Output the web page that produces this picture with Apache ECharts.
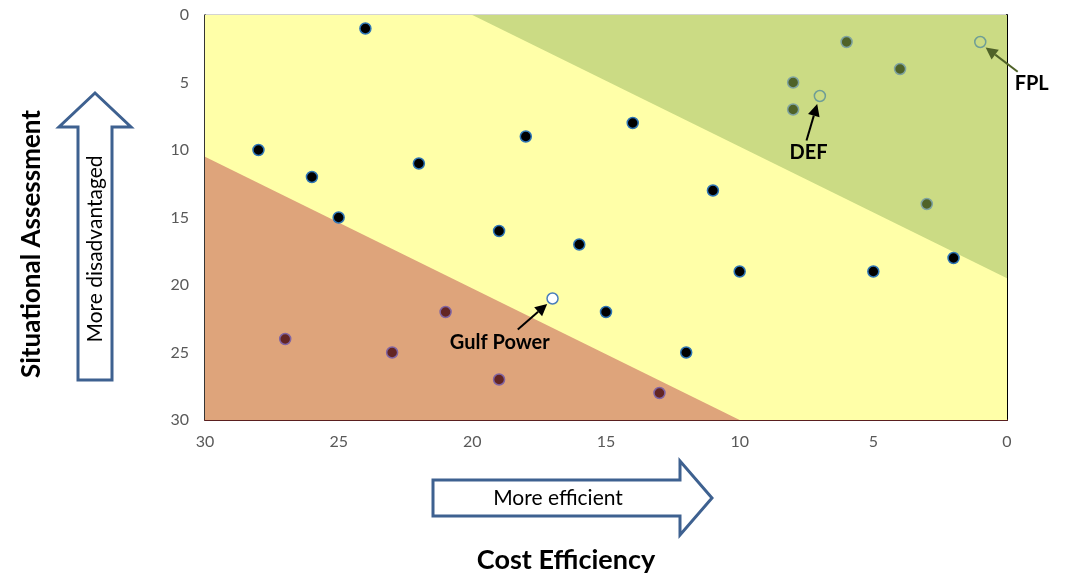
<!DOCTYPE html>
<html>
<head>
<meta charset="utf-8">
<script src="https://cdn.jsdelivr.net/npm/echarts@6/dist/echarts.min.js"></script>
<style>
  body { margin: 0; background: #fff; }
  #main { width: 1066px; height: 576px; }
</style>
</head>
<body>
<div id="main"></div>
<script>
// [cost efficiency rank, situational assessment rank]
var blackPts = [[24,1],[28,10],[26,12],[25,15],[22,11],[18,9],[19,16],[16,17],[14,8],[11,13],[15,22],[12,25],[10,19],[5,19],[2,18]];
var greenPts = [[6,2],[4,4],[8,5],[8,7],[3,14]];
var brownPts = [[27,24],[23,25],[21,22],[19,27],[13,28]];
var hollowGreenPts = [[7,6],[1,2]];
var gulfPts = [[17,21]];
var axisTicks = [0,5,10,15,20,25,30];

// background zones
var zoneYellow = [[30,0],[0,0],[0,30],[30,30]];
var zoneGreen = [[20,0],[0,0],[0,19.5]];
var zoneBrown = [[30,10.5],[30,30],[10,30]];

// labels: [text, from x, from y, to x, to y]
var notes = [
  ['FPL', -0.4, 4.2, 0.8, 2.4],
  ['DEF', 7.5, 9.3, 7.1, 6.6],
  ['Gulf Power', 18.3, 23.3, 17.2, 21.4]
];

var myChart = echarts.init(document.getElementById('main'));
var font = 'Lato, "Open Sans", sans-serif';

function zone(pts, color, stroke) {
  return {
    type: 'custom',
    silent: true,
    z: 1,
    data: [0],
    clip: true,
    renderItem: function (params, api) {
      return {
        type: 'polygon',
        shape: { points: pts.map(function (p) { return api.coord(p); }) },
        style: { fill: color, stroke: stroke || 'none', lineWidth: 1 }
      };
    }
  };
}

function dots(data, fill, border) {
  return {
    type: 'scatter',
    z: 5,
    symbolSize: 11,
    data: data,
    itemStyle: { color: fill, borderColor: border, borderWidth: 1.5, opacity: 1 }
  };
}

var option = {
  animation: false,
  textStyle: { fontFamily: font },
  grid: { left: 205, right: 59, top: 15, bottom: 156, show: true, borderColor: '#a6a6a6', borderWidth: 1 },
  xAxis: {
    type: 'value', min: 0, max: 30, interval: 5, inverse: true,
    splitLine: { show: false },
    axisTick: { show: false },
    axisLine: { show: true, onZero: false, lineStyle: { color: '#5a1f1f', width: 2 } },
    axisLabel: { color: '#595959', fontSize: 16, margin: 14, fontFamily: font,
      formatter: function (v) { return axisTicks.indexOf(v) >= 0 ? v : ''; } }
  },
  yAxis: [{
    type: 'value', min: 0, max: 30, interval: 5, inverse: true,
    splitLine: { show: false },
    axisTick: { show: false },
    axisLine: { show: true, onZero: false, lineStyle: { color: '#000', width: 1.5 } },
    axisLabel: { color: '#595959', fontSize: 16, margin: 16, fontFamily: font }
  }, {
    type: 'value', min: 0, max: 30, inverse: true, position: 'right',
    splitLine: { show: false }, axisTick: { show: false }, axisLabel: { show: false },
    axisLine: { show: true, onZero: false, lineStyle: { color: '#000', width: 2 } }
  }],
  series: [
    zone(zoneYellow, '#ffffa8'),
    zone(zoneGreen, '#cbdb84'),
    zone(zoneBrown, '#dea47b'),
    dots(blackPts, '#000000', '#2e75b6'),
    dots(greenPts, '#4f6228', '#7fa3a0'),
    dots(brownPts, '#632523', '#8064a2'),
    dots(hollowGreenPts, 'rgba(0,0,0,0)', '#6f9e96'),
    dots(gulfPts, '#ffffff', '#4a7ebb'),
    {
      type: 'custom',
      z: 6,
      clip: false,
      data: notes.map(function (n, i) { return [n[1], n[2], n[3], n[4], i]; }),
      renderItem: function (params, api) {
        var n = notes[api.value(4)];
        var a = api.coord([n[1], n[2]]);
        var b = api.coord([n[3], n[4]]);
        var ang = Math.atan2(b[1] - a[1], b[0] - a[0]);
        var hl = 12, hw = 6;
        var bx = b[0] - hl * Math.cos(ang), by = b[1] - hl * Math.sin(ang);
        var color = n[0] === 'FPL' ? '#4f6228' : '#000';
        var textPos = n[0] === 'FPL' ? [a[0] + 14, a[1] + 12] : (n[0] === 'DEF' ? [a[0] + 2, a[1] + 12] : [a[0] - 18, a[1] + 13]);
        return {
          type: 'group',
          children: [
            { type: 'line', shape: { x1: a[0], y1: a[1], x2: bx, y2: by }, style: { stroke: color, lineWidth: 2 } },
            { type: 'polygon', shape: { points: [b,
                [bx + hw * Math.sin(ang), by - hw * Math.cos(ang)],
                [bx - hw * Math.sin(ang), by + hw * Math.cos(ang)]] },
              style: { fill: color } },
            { type: 'text', x: textPos[0], y: textPos[1],
              style: { text: n[0], fill: '#000', font: 'bold 20px ' + font, align: 'center', verticalAlign: 'middle' } }
          ]
        };
      }
    }
  ],
  graphic: [
    { type: 'text', x: 32, y: 244, rotation: Math.PI / 2,
      style: { text: 'Situational Assessment', font: 'bold 26px ' + font, fill: '#000', align: 'center', verticalAlign: 'middle' } },
    { type: 'text', x: 566, y: 560,
      style: { text: 'Cost Efficiency', font: 'bold 27px ' + font, fill: '#000', align: 'center', verticalAlign: 'middle' } },
    { type: 'polygon', shape: { points: [[78,380],[78,127],[59,127],[95,93],[131,127],[112,127],[112,380]] },
      style: { fill: '#fff', stroke: '#3e6190', lineWidth: 3 } },
    { type: 'text', x: 95, y: 249, rotation: Math.PI / 2,
      style: { text: 'More disadvantaged', font: '21px ' + font, fill: '#000', align: 'center', verticalAlign: 'middle' } },
    { type: 'polygon', shape: { points: [[433,480],[680,480],[680,461],[712,498],[680,535],[680,516],[433,516]] },
      style: { fill: '#fff', stroke: '#3e6190', lineWidth: 3 } },
    { type: 'text', x: 558, y: 498,
      style: { text: 'More efficient', font: '21px ' + font, fill: '#000', align: 'center', verticalAlign: 'middle' } }
  ]
};
myChart.setOption(option);
</script>
</body>
</html>
